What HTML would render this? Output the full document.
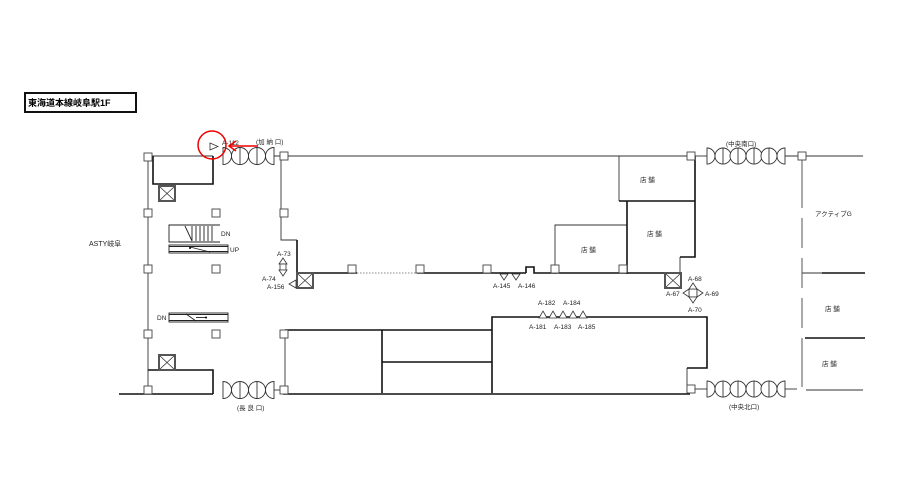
<!DOCTYPE html>
<html><head><meta charset="utf-8"><style>
html,body{margin:0;padding:0;background:#fff;}
svg{display:block;}
text{font-family:"Liberation Sans","Noto Sans CJK JP",sans-serif;font-size:6.5px;fill:#222;}
</style></head><body>
<svg width="919" height="491" viewBox="0 0 919 491" xmlns="http://www.w3.org/2000/svg">
<defs>
<g id="door" fill="#fff" stroke="#333" stroke-width="0.9">
 <path d="M0,-8.5 A8.5,8.5 0 0 1 0,8.5 Z"/>
 <circle cx="17" cy="0" r="8.5"/><line x1="17" y1="-8.5" x2="17" y2="8.5"/>
 <circle cx="34" cy="0" r="8.5"/><line x1="34" y1="-8.5" x2="34" y2="8.5"/>
 <path d="M51,-8.5 A8.5,8.5 0 0 0 51,8.5 Z"/>
</g>
<g id="door2" fill="#fff" stroke="#333" stroke-width="0.9">
 <path d="M0,-8 A8,8 0 0 1 0,8 Z"/>
 <circle cx="16" cy="0" r="8"/><line x1="16" y1="-8" x2="16" y2="8"/>
 <circle cx="31" cy="0" r="8"/><line x1="31" y1="-8" x2="31" y2="8"/>
 <circle cx="47" cy="0" r="8"/><line x1="47" y1="-8" x2="47" y2="8"/>
 <circle cx="62" cy="0" r="8"/><line x1="62" y1="-8" x2="62" y2="8"/>
 <path d="M78,-8 A8,8 0 0 0 78,8 Z"/>
</g>
<g id="sq"><rect x="-4" y="-4" width="8" height="8" fill="#fff" stroke="#444" stroke-width="0.9"/></g>
<g id="el"><rect x="0" y="0" width="16" height="15" fill="#fff" stroke="#555" stroke-width="2"/><path d="M1,1 L15,14 M15,1 L1,14" stroke="#333" stroke-width="0.8"/></g>
</defs>

<rect x="25" y="93" width="111" height="19" fill="#fff" stroke="#111" stroke-width="2"/>
<text x="28" y="106" style="font-size:9px;font-weight:bold;fill:#000">東海道本線岐阜駅1F</text>

<g stroke="#333" stroke-width="0.9" fill="none">
 <line x1="148" y1="156" x2="213" y2="156"/>
 <line x1="274" y1="156" x2="691" y2="156"/>
 <line x1="691" y1="156" x2="707" y2="156"/>
 <line x1="785" y1="156" x2="863" y2="156"/>
 <line x1="148" y1="156" x2="148" y2="394"/>
 <polyline points="281,156 281,240 297,240"/>
 <line x1="285" y1="330" x2="285" y2="393"/>
 <polyline points="619,156 619,201"/>
 <polyline points="555,274 555,225 627,225"/>
 <line x1="680" y1="257" x2="680" y2="274"/>
 <line x1="687" y1="368" x2="687" y2="393"/>
 <line x1="691" y1="389" x2="707" y2="389"/>
 <line x1="785" y1="389" x2="797" y2="389"/>
 <line x1="806" y1="390" x2="863" y2="390"/>
 <line x1="802" y1="273" x2="822" y2="273"/>
 <line x1="274" y1="390" x2="284" y2="390"/>
 <line x1="357" y1="273" x2="417" y2="273" stroke-dasharray="1.5,1.5" stroke="#888"/>
</g>
<g stroke="#111" stroke-width="1.6" fill="none">
 <polyline points="153,156 153,184 213,184 213,156"/>
 <polyline points="148,370 213,370 213,394"/>
 <line x1="119" y1="394" x2="213" y2="394"/>
 <line x1="283" y1="394" x2="690" y2="394"/>
 <polyline points="297,240 297,273 357,273"/>
 <line x1="417" y1="273" x2="526" y2="273"/>
 <polyline points="526,273 526,267 534,267 534,273 680,273"/>
 <polyline points="619,201 695,201"/>
 <polyline points="627,201 627,274"/>
 <polyline points="695,156 695,257 680,257"/>
 <polyline points="285,330 492,330"/>
 <polyline points="492,393 492,317 707,317 707,368 687,368"/>
 <line x1="382" y1="330" x2="382" y2="393"/>
 <line x1="382" y1="362" x2="492" y2="362"/>
 <line x1="822" y1="273" x2="865" y2="273"/>
 <line x1="805" y1="338" x2="865" y2="338"/>
</g>
<g stroke="#555" stroke-width="1">
 <line x1="802" y1="160" x2="802" y2="208"/>
 <line x1="802" y1="218" x2="802" y2="248"/>
 <line x1="802" y1="258" x2="802" y2="288"/>
 <line x1="802" y1="298" x2="802" y2="328"/>
 <line x1="802" y1="338" x2="802" y2="387"/>
</g>

<use href="#door" x="223" y="156"/>
<use href="#door" x="223" y="390"/>
<use href="#door2" x="707" y="156"/>
<use href="#door2" x="707" y="389"/>

<use href="#sq" x="148" y="157"/><use href="#sq" x="148" y="213"/><use href="#sq" x="148" y="269"/><use href="#sq" x="148" y="334"/><use href="#sq" x="148" y="390"/>
<use href="#sq" x="216" y="213"/><use href="#sq" x="216" y="269"/><use href="#sq" x="216" y="334"/>
<use href="#sq" x="284" y="156"/><use href="#sq" x="284" y="213"/><use href="#sq" x="284" y="334"/><use href="#sq" x="284" y="390"/>
<use href="#sq" x="352" y="269"/><use href="#sq" x="420" y="269"/><use href="#sq" x="487" y="269"/><use href="#sq" x="555" y="269"/><use href="#sq" x="623" y="269"/>
<use href="#sq" x="691" y="156"/><use href="#sq" x="802" y="156"/><use href="#sq" x="691" y="389"/>

<use href="#el" x="159" y="186"/>
<use href="#el" x="159" y="355"/>
<use href="#el" x="297" y="273"/>
<use href="#el" x="665" y="273"/>

<g stroke="#222" stroke-width="0.9" fill="none">
 <polyline points="220,225 169,225 169,242 220,242"/>
 <path d="M192,226v15 M196,226v15 M200,226v15 M204,226v15 M208,226v15 M212,226v15 M185,226 L192,241"/>
 <rect x="169" y="245" width="59" height="8"/>
 <line x1="169" y1="246.5" x2="228" y2="246.5"/><line x1="169" y1="251.5" x2="228" y2="251.5"/>
 <line x1="190" y1="247" x2="210" y2="252"/>
 <rect x="169" y="313" width="59" height="9"/>
 <line x1="169" y1="314.5" x2="228" y2="314.5"/><line x1="169" y1="320.5" x2="228" y2="320.5"/>
 <line x1="186" y1="314" x2="196" y2="321"/><line x1="196" y1="317.5" x2="206" y2="317.5"/>
</g>
<circle cx="190" cy="248" r="1" fill="#000"/><circle cx="206" cy="317.5" r="1" fill="#000"/>
<text x="221" y="236">DN</text><text x="230" y="252">UP</text><text x="157" y="320">DN</text>
<text x="89" y="246" style="font-size:7px">ASTY岐阜</text>

<g fill="#fff" stroke="#333" stroke-width="0.8">
 <path d="M210,143 L218,146.5 L210,150 Z"/>
 <path d="M283,258 L287,264 L279,264 Z"/><rect x="280" y="264" width="6" height="6"/><path d="M279,270 L287,270 L283,276 Z"/>
 <path d="M296,280 L289,284 L296,288 Z"/>
 <path d="M500,274 L508,274 L504,280 Z"/><path d="M512,274 L520,274 L516,280 Z"/>
 <path d="M539,318 L543,311 L547,318 Z"/><path d="M549,318 L553,311 L557,318 Z"/><path d="M559,318 L563,311 L567,318 Z"/><path d="M569,318 L573,311 L577,318 Z"/><path d="M579,318 L583,311 L587,318 Z"/>
 <rect x="689" y="289" width="8" height="8"/>
 <path d="M689,289 L693,283 L697,289 Z"/><path d="M689,297 L697,297 L693,303 Z"/>
 <path d="M689,289 L683,293 L689,297 Z"/><path d="M697,289 L703,293 L697,297 Z"/>
</g>
<g>
 <text x="222" y="145">A-112</text>
 <text x="256" y="144">(加 納 口)</text>
 <text x="237" y="410">(長 良 口)</text>
 <text x="726" y="146">(中央南口)</text>
 <text x="729" y="409">(中央北口)</text>
 <text x="277" y="256">A-73</text>
 <text x="262" y="281">A-74</text>
 <text x="267" y="289">A-156</text>
 <text x="493" y="288">A-145</text>
 <text x="518" y="288">A-146</text>
 <text x="538" y="305">A-182</text><text x="563" y="305">A-184</text>
 <text x="529" y="329">A-181</text><text x="554" y="329">A-183</text><text x="578" y="329">A-185</text>
 <text x="688" y="281">A-68</text><text x="666" y="296">A-67</text><text x="705" y="296">A-69</text><text x="688" y="312">A-70</text>
 <text x="815" y="216">アクティブG</text>
 <text x="640" y="182">店 舗</text><text x="647" y="236">店 舗</text><text x="581" y="252">店 舗</text>
 <text x="825" y="311">店 舗</text><text x="822" y="366">店 舗</text>
</g>

<circle cx="212" cy="145" r="14" fill="none" stroke="#e00" stroke-width="1.5"/>
<line x1="258" y1="146" x2="230" y2="146" stroke="#e00" stroke-width="1.5"/>
<path d="M236,141 L229,146 L236,151" fill="none" stroke="#e00" stroke-width="1.5"/>
</svg>
</body></html>
